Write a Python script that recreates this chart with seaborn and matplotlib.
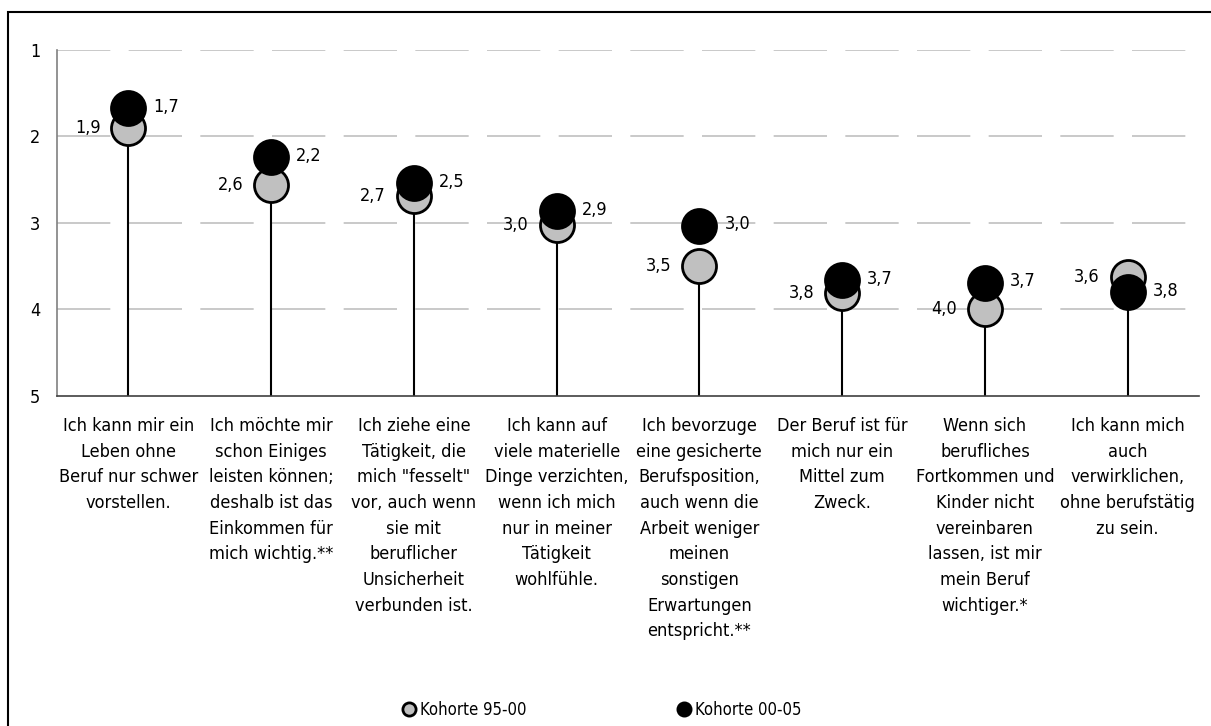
import matplotlib

matplotlib.use("Agg")
import matplotlib.pyplot as plt
import pandas as pd
import seaborn as sns
from matplotlib.lines import Line2D
from matplotlib.patches import Rectangle
from matplotlib.ticker import FixedLocator

sns.set_theme(style="white")
plt.rcParams["font.family"] = ["DejaVu Sans"]
plt.rcParams["font.stretch"] = "condensed"
plt.rcParams["text.color"] = "black"
plt.rcParams["xtick.color"] = "black"
plt.rcParams["ytick.color"] = "black"

# Aussagen (x-Achse)
statements = [
    "Ich kann mir ein\nLeben ohne\nBeruf nur schwer\nvorstellen.",
    "Ich möchte mir\nschon Einiges\nleisten können;\ndeshalb ist das\nEinkommen für\nmich wichtig.**",
    "Ich ziehe eine\nTätigkeit, die\nmich \"fesselt\"\nvor, auch wenn\nsie mit\nberuflicher\nUnsicherheit\nverbunden ist.",
    "Ich kann auf\nviele materielle\nDinge verzichten,\nwenn ich mich\nnur in meiner\nTätigkeit\nwohlfühle.",
    "Ich bevorzuge\neine gesicherte\nBerufsposition,\nauch wenn die\nArbeit weniger\nmeinen\nsonstigen\nErwartungen\nentspricht.**",
    "Der Beruf ist für\nmich nur ein\nMittel zum\nZweck.",
    "Wenn sich\nberufliches\nFortkommen und\nKinder nicht\nvereinbaren\nlassen, ist mir\nmein Beruf\nwichtiger.*",
    "Ich kann mich\nauch\nverwirklichen,\nohne berufstätig\nzu sein.",
]

# Mittelwerte je Kohorte (1 = trifft voll zu, 5 = trifft gar nicht zu)
kohorte_95_00 = [1.90, 2.56, 2.69, 3.02, 3.50, 3.81, 4.00, 3.62]
kohorte_00_05 = [1.67, 2.24, 2.54, 2.86, 3.03, 3.66, 3.69, 3.80]

y_ticks = [1, 2, 3, 4, 5]

df = pd.DataFrame(
    {
        "pos": list(range(len(statements))) * 2,
        "wert": kohorte_95_00 + kohorte_00_05,
        "kohorte": ["Kohorte 95-00"] * len(statements)
        + ["Kohorte 00-05"] * len(statements),
    }
)

fig = plt.figure(figsize=(12.11, 7.26), dpi=100)
ax = fig.add_axes([57 / 1211, 1 - 396 / 726, (1199 - 57) / 1211, 346 / 726])

# outer frame (only left/top visible in the source)
fig.patches.append(
    Rectangle(
        (8 / 1211, -0.1),
        1.2,
        1.1 - 12 / 726,
        transform=fig.transFigure,
        fill=False,
        edgecolor="black",
        linewidth=1.5,
        zorder=0,
    )
)

# stems
for i in range(len(statements)):
    low = max(kohorte_95_00[i], kohorte_00_05[i])
    ax.vlines(i, low, 5, color="black", linewidth=1.5, zorder=2)

sns.scatterplot(
    data=df[df["kohorte"] == "Kohorte 95-00"],
    x="pos",
    y="wert",
    color="#C0C0C0",
    edgecolor="black",
    linewidth=2,
    s=600,
    zorder=3,
    ax=ax,
    legend=False,
)
sns.scatterplot(
    data=df[df["kohorte"] == "Kohorte 00-05"],
    x="pos",
    y="wert",
    color="black",
    edgecolor="black",
    linewidth=2,
    s=600,
    zorder=4,
    ax=ax,
    legend=False,
)

# value labels
for i in range(len(statements)):
    ax.annotate(
        f"{kohorte_95_00[i]:.1f}".replace(".", ","),
        (i, kohorte_95_00[i]),
        xytext=(-20, 0),
        textcoords="offset points",
        ha="right",
        va="center",
        fontsize=13,
        zorder=5,
    )
    ax.annotate(
        f"{kohorte_00_05[i]:.1f}".replace(".", ","),
        (i, kohorte_00_05[i]),
        xytext=(18, 1),
        textcoords="offset points",
        ha="left",
        va="center",
        fontsize=13,
        zorder=5,
    )

ax.set_xlim(-0.5, len(statements) - 0.5)
ax.set_ylim(5, 1)
ax.set_yticks(y_ticks)
ax.set_yticklabels([str(t) for t in y_ticks], fontsize=13)
ax.set_xticks(range(len(statements)))
ax.set_xticklabels(statements, fontsize=13, linespacing=1.55, va="top")
ax.xaxis.set_minor_locator(FixedLocator([i - 0.5 for i in range(len(statements) + 1)]))
ax.tick_params(axis="x", which="major", length=0, pad=15)
ax.tick_params(axis="x", which="minor", length=4.5, width=1, color="#404040", direction="out")
ax.tick_params(axis="y", length=5, width=1, color="#606060", direction="out", pad=7)
ax.set_xlabel("")
ax.set_ylabel("")

for y in y_ticks[:-1]:
    ax.axhline(y, color="#C0C0C0", linewidth=1.2, dashes=(32, 11), zorder=1)

for side in ["top", "right"]:
    ax.spines[side].set_visible(False)
ax.spines["left"].set_color("#808080")
ax.spines["left"].set_linewidth(1.2)
ax.spines["bottom"].set_color("#404040")
ax.spines["bottom"].set_linewidth(1.2)
ax.grid(False)

handles = [
    Line2D([], [], marker="o", linestyle="", markersize=9.5, markerfacecolor="#C0C0C0",
           markeredgecolor="black", markeredgewidth=2, label="Kohorte 95-00"),
    Line2D([], [], marker="o", linestyle="", markersize=9.5, markerfacecolor="black",
           markeredgecolor="black", markeredgewidth=2, label="Kohorte 00-05"),
]
fig.legend(
    handles=handles,
    loc="center",
    bbox_to_anchor=(602 / 1211, 1 - 710 / 726),
    ncol=2,
    frameon=False,
    fontsize=12,
    handletextpad=0.3,
    handlelength=0.8,
    columnspacing=9.0,
)

fig.savefig("out.png", dpi=100)
